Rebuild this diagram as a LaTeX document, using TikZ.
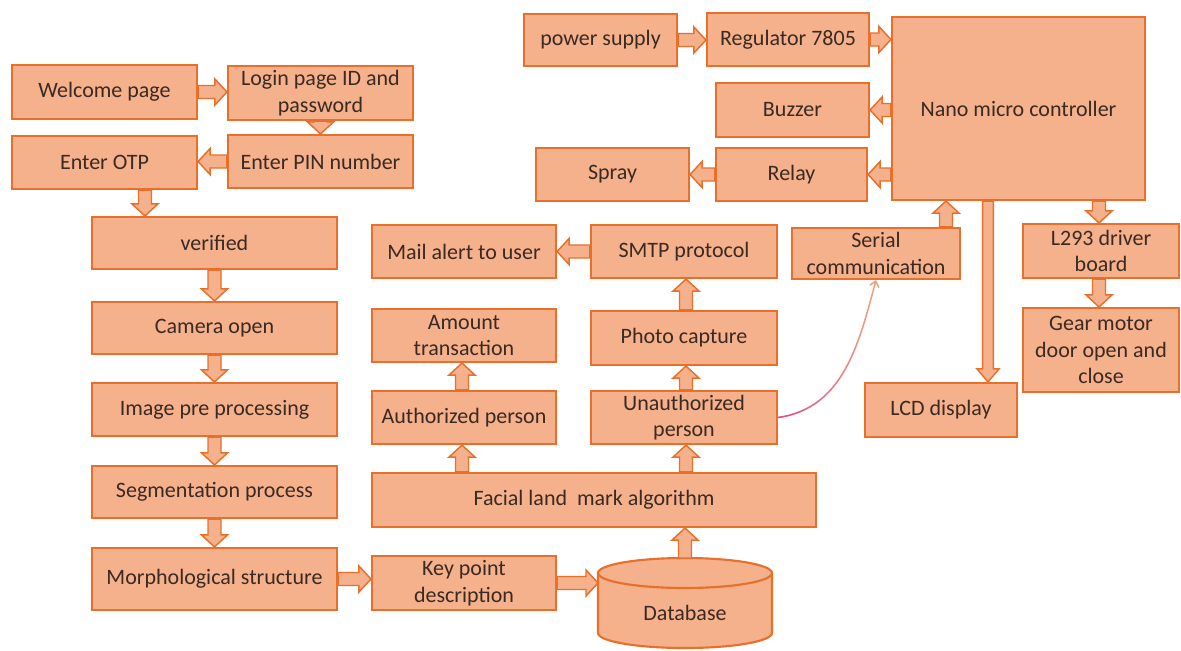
\documentclass[tikz,border=0pt]{standalone}
\usepackage{fontspec}
\setmainfont{Carlito}
\usetikzlibrary{calc, arrows.meta, fadings}
\definecolor{bfill}{HTML}{F5B08C}
\definecolor{bline}{HTML}{E8702A}
\definecolor{btext}{HTML}{3A2A22}
\definecolor{pinkc}{HTML}{E0489A}
\definecolor{curvorange}{HTML}{F2A27A}
\tikzfading[name=fadeR, left color=transparent!0, right color=transparent!100]

% block arrow: #1 start, #2 end, #3 shaft half width, #4 head half width, #5 head length
\newcommand\blockarrow[5]{%
  \coordinate (BA-a) at #1;
  \coordinate (BA-b) at #2;
  \coordinate (BA-n) at ($(BA-b)!#5!(BA-a)$);
  \draw[arrowpoly] ($(BA-a)!#3!90:(BA-b)$) -- ($(BA-n)!#3!90:(BA-b)$) -- ($(BA-n)!#4!90:(BA-b)$)
    -- (BA-b) -- ($(BA-n)!#4!-90:(BA-b)$) -- ($(BA-n)!#3!-90:(BA-b)$) -- ($(BA-a)!#3!-90:(BA-b)$) -- cycle;
}
\newcommand\barrow[2]{\blockarrow{#1}{#2}{4.875pt}{9.75pt}{9pt}}
\newcommand\barrowthin[2]{\blockarrow{#1}{#2}{4.1pt}{8.25pt}{9.75pt}}

\tikzset{
  box/.style={draw=bline, fill=bfill, line width=1.6pt, text=btext, align=center,
    inner sep=1pt, font=\fontsize{16.5}{19.8}\selectfont},
  txt/.style={text=btext, align=center, inner sep=1pt, font=\fontsize{16.5}{19.8}\selectfont},
  at rect/.style n args={4}{minimum width={(#3-#1)*0.75pt}, minimum height={(#4-#2)*0.75pt},
    at={({(#1+#3)/2},{(#2+#4)/2})}},
  arrowpoly/.style={fill=bfill, draw=bline, line width=1.1pt, line join=miter},
  curvelink/.style={line width=1.1pt, -{Straight Barb[length=4pt,width=7pt]}},
}

\begin{document}
\begin{tikzpicture}[x=0.75pt, y=-0.75pt]
\fill[white] (0,0) rectangle (1181,650);
\useasboundingbox (0,0) rectangle (1181,650);

% left column
\node[box, at rect={12}{65}{197}{119}] (welcome) {Welcome page};
\node[box, at rect={228}{66}{413}{120}] (login) {Login page ID and\\password};
\node[box, at rect={12}{136}{197}{189}] (otp) {Enter OTP};
\node[box, at rect={228}{135}{413}{188}] (pin) {Enter PIN number};
\node[box, at rect={92}{217}{337}{269}] (verified) {verified};
\node[box, at rect={92}{302}{337}{354}] (camera) {Camera open};
\node[box, at rect={92}{383}{337}{436}] (imgpre) {Image pre processing};
\node[box, at rect={92}{466}{337}{518}] (seg) {Segmentation process};
\node[box, at rect={92}{548}{337}{610}] (morph) {Morphological structure};

% middle
\node[box, at rect={372}{556}{556}{610}] (keypt) {Key point\\description};
\node[box, at rect={372}{473}{816}{527}] (facial) {Facial land\ \ mark algorithm};
\node[box, at rect={372}{391}{556}{444}] (auth) {Authorized person};
\node[box, at rect={372}{309}{556}{362}] (amount) {Amount\\transaction};
\node[box, at rect={591}{391}{777}{444}] (unauth) {Unauthorized\\person};
\node[box, at rect={591}{311}{777}{365}] (photo) {Photo capture};
\node[box, at rect={591}{225}{777}{278}] (smtp) {SMTP protocol};
\node[box, at rect={372}{225}{556}{278}] (mail) {Mail alert to user};

% database cylinder
\node[at rect={598}{558}{772}{648}, inner sep=0pt, outer sep=0pt] (db) {};
\draw[draw=bline, fill=bfill, line width=1.6pt]
  (598,573) -- (598,633) arc[start angle=180, end angle=360, x radius=65.25pt, y radius=11.25pt]
  -- (772,573) arc[start angle=0, end angle=180, x radius=65.25pt, y radius=11.25pt] -- cycle;
\draw[draw=bline, line width=1.6pt]
  (598,573) arc[start angle=180, end angle=360, x radius=65.25pt, y radius=11.25pt];
\node[txt] (dblabel) at (685,613) {Database};

% right part
\node[box, at rect={524}{14}{677}{66}] (power) {power supply};
\node[box, at rect={707}{13}{869}{66}] (reg) {Regulator 7805};
\node[box, at rect={892}{17}{1145}{200}] (nano) {Nano micro controller};
\node[box, at rect={716}{83}{869}{137}] (buzzer) {Buzzer};
\node[box, at rect={716}{148}{867}{201}] (relay) {Relay};
\node[box, at rect={536}{148}{689}{201}] (spray) {Spray};
\node[box, at rect={792}{228}{960}{279}] (serial) {Serial\\communication};
\node[box, at rect={1023}{224}{1179}{278}] (l293) {L293 driver\\board};
\node[box, at rect={1023}{308}{1179}{392}] (gear) {Gear motor\\door open and\\close};
\node[box, at rect={865}{383}{1017}{437}] (lcd) {LCD display};

% helper x positions
\coordinate (cx1) at (145,0);
\coordinate (cxa) at (462,0);
\coordinate (cxu) at (686,0);
\coordinate (cxs) at (946,0);
\coordinate (cxl) at (1099,0);
\coordinate (cxd) at (988,0);

% block arrows
\barrow{(welcome.east)}{(welcome.east -| login.west)}
\barrow{(login.south)}{(login.south |- pin.north)}
\barrow{(pin.west)}{(pin.west -| otp.east)}
\barrow{(otp.south -| cx1)}{(verified.north -| cx1)}
\barrow{(verified.south)}{(camera.north)}
\barrow{(camera.south)}{(imgpre.north)}
\barrow{(imgpre.south)}{(seg.north)}
\barrow{(seg.south)}{(morph.north)}
\barrow{(morph.east)}{(morph.east -| keypt.west)}
\barrow{(keypt.east)}{(keypt.east -| db.west)}
\barrow{(db.north)}{(db.north |- facial.south)}
\barrow{(facial.north -| cxa)}{(auth.south -| cxa)}
\barrow{(facial.north -| cxu)}{(unauth.south -| cxu)}
\barrow{(auth.north -| cxa)}{(amount.south -| cxa)}
\barrow{(unauth.north -| cxu)}{(photo.south -| cxu)}
\barrow{(photo.north -| cxu)}{(smtp.south -| cxu)}
\barrow{(smtp.west)}{(smtp.west -| mail.east)}
\barrow{(power.east)}{(power.east -| reg.west)}
\barrow{(reg.east)}{(reg.east -| nano.west)}
\barrow{(nano.west |- buzzer.east)}{(buzzer.east)}
\barrow{(nano.west |- relay.east)}{(relay.east)}
\barrow{(relay.west)}{(relay.west -| spray.east)}
\barrow{(serial.north -| cxs)}{(nano.south -| cxs)}
\barrow{(nano.south -| cxl)}{(l293.north -| cxl)}
\barrow{(l293.south -| cxl)}{(gear.north -| cxl)}
\barrowthin{(nano.south -| cxd)}{(lcd.north -| cxd)}

% curved link
\draw[curvelink, curvorange] (unauth.east) to[out=8, in=-105] (serial.south);
\draw[curvelink, pinkc, path fading=fadeR] (unauth.east) to[out=8, in=-105] (serial.south);
\end{tikzpicture}
\end{document}
